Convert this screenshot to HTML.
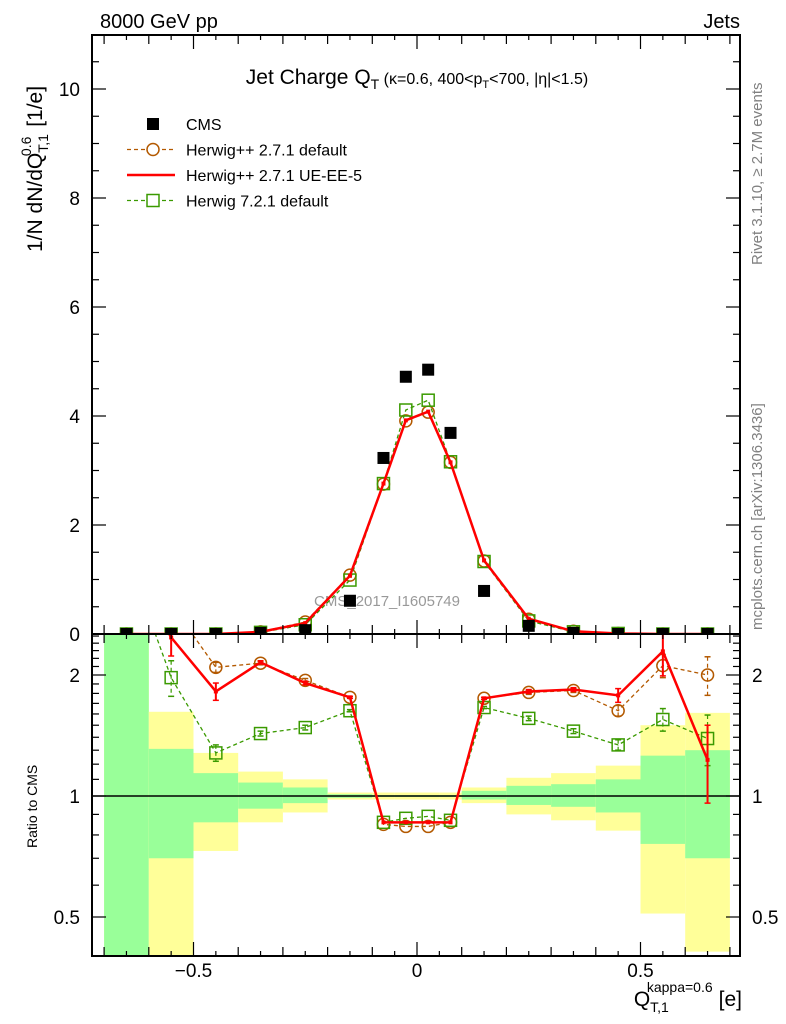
<!DOCTYPE html>
<html><head><meta charset="utf-8"><style>
body{margin:0;background:#fff;}
svg{display:block;font-family:"Liberation Sans",sans-serif;}
</style></head><body>
<svg id="c" width="786" height="1024" viewBox="0 0 786 1024" xmlns="http://www.w3.org/2000/svg">
<defs>
<clipPath id="cm"><rect x="92" y="35" width="648" height="599"/></clipPath>
<clipPath id="cr"><rect x="92" y="635" width="648" height="321"/></clipPath>
</defs>
<text x="100" y="28" font-size="20">8000 GeV pp</text>
<text x="740" y="28" font-size="20" text-anchor="end">Jets</text>
<text x="417" y="84" font-size="21" text-anchor="middle">Jet Charge Q<tspan font-size="14" dy="5">T</tspan><tspan font-size="16" dy="-5"> (κ=0.6, 400&lt;p</tspan><tspan font-size="11" dy="4">T</tspan><tspan font-size="16" dy="-4">&lt;700, |η|&lt;1.5)</tspan></text>
<text transform="translate(42,252) rotate(-90)" font-size="21">1/N dN/dQ<tspan font-size="14" dy="6">T,1</tspan><tspan font-size="14" dx="-22" dy="-17">0.6</tspan><tspan dy="11" dx="4"> [1/e]</tspan></text>
<text transform="translate(762,265) rotate(-90)" font-size="15" fill="#808080">Rivet 3.1.10, ≥ 2.7M events</text>
<text transform="translate(762,630) rotate(-90)" font-size="15" fill="#808080">mcplots.cern.ch [arXiv:1306.3436]</text>
<text transform="translate(37,848) rotate(-90)" font-size="14">Ratio to CMS</text>
<text x="742" y="1006" font-size="21" text-anchor="end">Q<tspan font-size="14" dy="6">T,1</tspan><tspan font-size="14" dx="-22" dy="-20">kappa=0.6</tspan><tspan dy="14" dx="6">[e]</tspan></text>
<g id="g"></g>
</svg>
<script>
const edges=[-0.7,-0.6,-0.5,-0.4,-0.3,-0.2,-0.1,-0.05,0,0.05,0.1,0.2,0.3,0.4,0.5,0.6,0.7];
const cms=[0,0,0,0.02,0.07,0.61,3.23,4.72,4.85,3.69,0.79,0.15,0.02,0,0,0];
const hppDef=[0,0,0,0.04,0.22,1.08,2.75,3.91,4.07,3.15,1.34,0.27,0.05,0.01,0,0];
const hppUE=[0,0,0,0.04,0.2,1.07,2.76,3.92,4.08,3.15,1.35,0.28,0.05,0.01,0,0];
const h7=[0,0,0,0.03,0.17,0.99,2.76,4.11,4.29,3.16,1.33,0.24,0.04,0.01,0,0];
const rHppDef=[4,3,2.09,2.14,1.94,1.76,0.85,0.84,0.84,0.86,1.75,1.81,1.83,1.63,2.11,2.0];
const rHppUE=[4,2.48,1.82,2.15,1.91,1.76,0.86,0.86,0.86,0.86,1.75,1.82,1.84,1.78,2.29,1.23];
const rH7=[4,1.97,1.28,1.43,1.48,1.63,0.86,0.88,0.89,0.87,1.66,1.56,1.45,1.34,1.55,1.39];
const eHppDef=[0,0,0.06,0.02,0.02,0.01,0,0,0,0,0.01,0.02,0.02,0.05,0.14,0.22];
const eHppUE=[0,0.25,0.09,0.02,0.02,0.01,0,0,0,0,0.01,0.02,0.02,0.07,0.3,0.27];
const eH7=[0,0.2,0.06,0.02,0.02,0.01,0,0,0,0,0.01,0.02,0.02,0.04,0.1,0.2];
const bandStatHi=[3,1.31,1.14,1.08,1.05,1.01,1.005,1.005,1.005,1.005,1.03,1.06,1.07,1.10,1.26,1.30];
const bandStatLo=[0.3,0.70,0.86,0.93,0.96,0.99,0.995,0.995,0.995,0.995,0.98,0.95,0.94,0.91,0.76,0.70];
const bandTotHi=[3,1.62,1.28,1.15,1.10,1.02,1.02,1.02,1.02,1.02,1.05,1.11,1.14,1.19,1.50,1.61];
const bandTotLo=[0.3,0.3,0.73,0.86,0.91,0.98,0.98,0.98,0.98,0.98,0.96,0.90,0.87,0.82,0.51,0.41];
const yTicksMain=[0,2,4,6,8,10];
const xTicks=[-0.5,0,0.5];
const rTicks=[0.5,1,2];

const X=v=>417+v*447;
const Y=v=>634-v*54.5;
const R=v=>796-Math.log2(Math.max(v,0.01))*121;
const NS="http://www.w3.org/2000/svg";
const g=document.getElementById('g');
function mk(t,a,p){const e=document.createElementNS(NS,t);for(const k in a)e.setAttribute(k,a[k]);(p||g).appendChild(e);return e;}
const centers=edges.slice(0,-1).map((e,i)=>(e+edges[i+1])/2);

const bandG=mk('g',{'clip-path':'url(#cr)'});


centers.forEach((c,i)=>{
  const x1=X(edges[i]),x2=X(edges[i+1]);
  const ty=mk('rect',{x:x1,y:R(bandTotHi[i]),width:x2-x1,height:R(bandTotLo[i])-R(bandTotHi[i]),fill:'#ffff99'},bandG);
  
  
  const sg=mk('rect',{x:x1,y:R(bandStatHi[i]),width:x2-x1,height:R(bandStatLo[i])-R(bandStatHi[i]),fill:'#99ff99'},bandG);
  
  
});
const one=mk('line',{x1:92,x2:740,y1:R(1),y2:R(1),stroke:'#000','stroke-width':1.5});



const wm=mk('text',{x:387,y:606,'font-size':15,fill:'#999','text-anchor':'middle'});
wm.textContent='CMS_2017_I1605749';



function series(vals,errs,fy,clip,color,dash,width,marker,name){
  const sg=mk('g',{'clip-path':'url(#'+clip+')'});
  
  
  const pts=centers.map((c,i)=>X(c)+','+fy(vals[i])).join(' ');
  mk('polyline',{points:pts,fill:'none',stroke:color,'stroke-width':width,'stroke-dasharray':dash},sg);
  centers.forEach((c,i)=>{
    const x=X(c),y=fy(vals[i]);
    if(errs&&errs[i]>0){
      const y1=fy(vals[i]+errs[i]),y2=fy(vals[i]-errs[i]);
      mk('line',{x1:x,x2:x,y1:y1,y2:y2,stroke:color,'stroke-width':width>2?2:1.2,'stroke-dasharray':dash},sg);
      mk('line',{x1:x-3,x2:x+3,y1:y1,y2:y1,stroke:color,'stroke-width':1.5},sg);
      mk('line',{x1:x-3,x2:x+3,y1:y2,y2:y2,stroke:color,'stroke-width':1.5},sg);
    }
    let m;
    if(marker==='circle')m=mk('circle',{cx:x,cy:y,r:6,fill:'none',stroke:color,'stroke-width':1.5},sg);
    else if(marker==='square')m=mk('rect',{x:x-6,y:y-6,width:12,height:12,fill:'none',stroke:color,'stroke-width':1.5},sg);
    else if(marker==='dot')m=mk('rect',{x:x-2,y:y-2,width:4,height:4,fill:color},sg);
    if(m){}
  });
}
series(hppDef,null,Y,'cm','#b35900','4,3',1.3,'circle','herwigpp-default-main');
series(h7,null,Y,'cm','#3a9a00','4,3',1.3,'square','herwig7-default-main');
series(hppUE,null,Y,'cm','#ff0000','',2.5,'dot','herwigpp-ue-main');
const cg=mk('g',{'clip-path':'url(#cm)'});


centers.forEach((c,i)=>{
  const p=mk('rect',{x:X(c)-6,y:Y(cms[i])-6,width:12,height:12,fill:'#000'},cg);
  
  
});
series(rHppDef,eHppDef,R,'cr','#b35900','4,3',1.3,'circle','herwigpp-default-ratio');
series(rH7,eH7,R,'cr','#3a9a00','4,3',1.3,'square','herwig7-default-ratio');
series(rHppUE,eHppUE,R,'cr','#ff0000','',2.5,'dot','herwigpp-ue-ratio');

[[35,634],[634,956]].forEach((f,k)=>{
  const r=mk('rect',{x:92,y:f[0],width:648,height:f[1]-f[0],fill:'none',stroke:'#000','stroke-width':2});
  
  
});
for(let v=-0.7;v<=0.75;v+=0.05){
  const vv=Math.round(v*100)/100, x=X(vv);
  const L=Math.abs(vv%0.5)<1e-6?14:(Math.abs(Math.round(vv*10)-vv*10)<1e-6?9:5);
  [[634,-1],[35,1],[956,-1],[634,1]].forEach(([y,d])=>mk('line',{x1:x,x2:x,y1:y,y2:y+d*L,stroke:'#000','stroke-width':1.2}));
}
xTicks.forEach(v=>{const t=mk('text',{x:X(v),y:977,'font-size':19,'text-anchor':'middle'});t.textContent=v===0?'0':(v<0?'−0.5':'0.5');});
for(let v=0;v<=10.9;v+=0.5){const y=Y(v),L=(v%2===0)?14:7;
  mk('line',{x1:92,x2:92+L,y1:y,y2:y,stroke:'#000','stroke-width':1.2});mk('line',{x1:740,x2:740-L,y1:y,y2:y,stroke:'#000','stroke-width':1.2});}
yTicksMain.forEach(v=>{const t=mk('text',{x:80,y:Y(v)+7,'font-size':19,'text-anchor':'end'});t.textContent=v;});
[0.4,0.5,0.6,0.7,0.8,0.9,1,1.1,1.2,1.3,1.4,1.5,1.6,1.7,1.8,1.9,2,2.1,2.2,2.3,2.4,2.5].forEach(v=>{const y=R(v),L=rTicks.includes(v)?14:7;
  mk('line',{x1:92,x2:92+L,y1:y,y2:y,stroke:'#000','stroke-width':1.2});mk('line',{x1:740,x2:740-L,y1:y,y2:y,stroke:'#000','stroke-width':1.2});});
rTicks.forEach(v=>{[[80,'end'],[752,'start']].forEach(([x,a])=>{const t=mk('text',{x:x,y:R(v)+7,'font-size':19,'text-anchor':a});t.textContent=v;});});

const lg=mk('g',{});


const legendLabels=['CMS','Herwig++ 2.7.1 default','Herwig++ 2.7.1 UE-EE-5','Herwig 7.2.1 default'];
legendLabels.forEach((s,i)=>{
  const y=124+i*25.5;
  const e=mk('g',{},lg);
  
  
  if(i===0)mk('rect',{x:147,y:y-6,width:12,height:12,fill:'#000'},e);
  if(i===1){mk('line',{x1:127,x2:175,y1:y,y2:y,stroke:'#b35900','stroke-width':1.3,'stroke-dasharray':'4,3'},e);mk('circle',{cx:153,cy:y,r:6,fill:'#fff',stroke:'#b35900','stroke-width':1.5},e);}
  if(i===2)mk('line',{x1:127,x2:175,y1:y,y2:y,stroke:'#f00','stroke-width':2.5},e);
  if(i===3){mk('line',{x1:127,x2:175,y1:y,y2:y,stroke:'#3a9a00','stroke-width':1.3,'stroke-dasharray':'4,3'},e);mk('rect',{x:147,y:y-6,width:12,height:12,fill:'#fff',stroke:'#3a9a00','stroke-width':1.5},e);}
  const t=mk('text',{x:186,y:y+6,'font-size':16},e);t.textContent=s;
});
</script>
</body></html>
